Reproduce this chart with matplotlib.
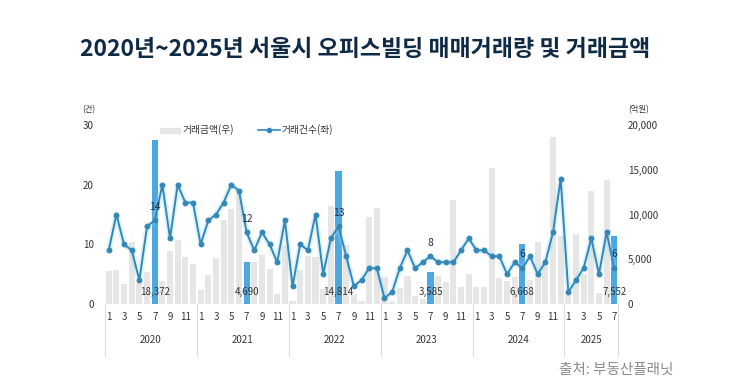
import matplotlib
matplotlib.use("Agg")
import matplotlib.pyplot as plt
from matplotlib.patches import Rectangle
from matplotlib.lines import Line2D
import matplotlib.transforms as mtrans

plt.rcParams['font.family'] = ['Noto Sans CJK KR', 'DejaVu Sans']

# ---------------- data ----------------
years = ['2020', '2021', '2022', '2023', '2024', '2025']
months_per_year = [12, 12, 12, 12, 12, 7]

# 거래건수 (left axis, 건)
counts = [
    9, 15, 10, 9, 4, 13, 14, 20, 11, 20, 17, 17,      # 2020
    10, 14, 15, 17, 20, 19, 12, 9, 12, 10, 7, 14,     # 2021
    3, 10, 9, 15, 5, 11, 13, 8, 3, 4, 6, 6,           # 2022
    1, 2, 6, 9, 6, 7, 8, 7, 7, 7, 9, 11,              # 2023
    9, 9, 8, 8, 5, 7, 6, 8, 5, 7, 12, 21,             # 2024
    2, 4, 6, 11, 5, 12, 6,                            # 2025
]

# 거래금액 (right axis, 억원)
amounts = [
    3700, 3760, 2270, 6930, 2300, 3580, 18372, 2530, 5880, 7150, 5290, 4470,     # 2020
    1530, 3240, 5100, 9390, 10670, 12290, 4690, 4730, 5470, 3910, 1120, 6520,    # 2021
    300, 3800, 5380, 5270, 1700, 10950, 14814, 6590, 1100, 300, 9750, 10750,     # 2022
    3050, 370, 1820, 3170, 930, 600, 3585, 3150, 2480, 11630, 1940, 3370,        # 2023
    1940, 1940, 15220, 2940, 2620, 3000, 6668, 2700, 6980, 4700, 18700, 7600,    # 2024
    950, 7780, 3350, 12600, 1200, 13800, 7552,                                   # 2025
]

month_labels = [str(m) for n in months_per_year for m in range(1, n + 1)]
highlight_month = '7'

left_ticks = [0, 10, 20, 30]
right_ticks = [0, 5000, 10000, 15000, 20000]

title = '2020년~2025년 서울시 오피스빌딩 매매거래량 및 거래금액'
source = '출처: 부동산플래닛'

# ---------------- styles ----------------
GRAY_BAR = '#e6e6e6'
BLUE_BAR = '#4aa8e3'
LINE_C = '#3388b8'
HALO_C = '#9fdcf2'
TXT = '#333333'
NAVY = '#1b2f4a'
DIV = '#dcdcdc'

W, H = 731, 385
fig = plt.figure(figsize=(W / 100, H / 100), dpi=100)
fig.patch.set_facecolor('white')

x0, x1 = 104.9, 618.1
ytop, ybot = 125, 304
ax2 = fig.add_axes([x0 / W, 1 - ybot / H, (x1 - x0) / W, (ybot - ytop) / H])  # bars (right)
ax = ax2.twinx()  # line (left)

n = len(counts)
xs = list(range(n))

# bars
colors = [BLUE_BAR if m == highlight_month else GRAY_BAR for m in month_labels]
ax2.bar(xs, amounts, width=0.8, color=colors, zorder=1)
ax2.set_ylim(0, 20000)
ax2.set_xlim(-0.5, n - 0.5)

# line
ax.plot(xs, counts, color=HALO_C, lw=4.0, alpha=0.35, solid_capstyle='round', zorder=2)
ax.plot(xs, counts, color=LINE_C, lw=1.4, marker='o', ms=3.2, zorder=3)
ax.set_ylim(0, 30)

ax.set_zorder(ax2.get_zorder() + 1)
ax.patch.set_visible(False)

# axis placement: counts on left, amounts on right
ax.yaxis.set_ticks_position('left')
ax.yaxis.set_label_position('left')
ax2.yaxis.set_ticks_position('right')
ax2.yaxis.set_label_position('right')

ax.set_yticks(left_ticks)
ax.set_yticklabels([str(t) for t in left_ticks])
ax2.set_yticks(right_ticks)
ax2.set_yticklabels([f'{t:,}' for t in right_ticks])
ax.tick_params(axis='y', length=0, pad=8, labelsize=7, labelcolor=TXT, left=True, right=False,
               labelleft=True, labelright=False)
ax2.tick_params(axis='y', length=0, pad=7, labelsize=7, labelcolor=TXT, left=False, right=True,
                labelleft=False, labelright=True)

ax2.set_xticks(xs[::2])
ax2.set_xticklabels(month_labels[::2])
ax2.tick_params(axis='x', length=0, pad=5.5, labelsize=7, labelcolor=TXT)
ax.tick_params(axis='x', length=0, labelbottom=False)

for a in (ax, ax2):
    for s in a.spines.values():
        s.set_visible(False)
ax2.axhline(0, color=DIV, lw=0.8, zorder=0)

# year dividers and labels
trans = mtrans.blended_transform_factory(ax2.transData, ax2.transAxes)
bounds = [-0.5]
for m in months_per_year:
    bounds.append(bounds[-1] + m)
for b in bounds:
    ax2.plot([b, b], [0, -0.29], color=DIV, lw=0.8, transform=trans, clip_on=False)
for i, y in enumerate(years):
    ax2.text((bounds[i] + bounds[i + 1]) / 2, -0.20, y, transform=trans, ha='center', va='center',
             fontsize=7, color=TXT)

# annotations for July
for i, m in enumerate(month_labels):
    if m == highlight_month:
        ax.text(i, counts[i] + 2.3, str(counts[i]), ha='center', va='center', fontsize=7.5,
                color=NAVY, zorder=5)
        ax2.text(i, 1340, f'{amounts[i]:,}', ha='center', va='center', fontsize=7,
                 color=TXT, zorder=5)

# unit labels
fig.text(95 / W, 1 - 110 / H, '(건)', ha='right', va='center', fontsize=6, color=TXT)
fig.text(628 / W, 1 - 110 / H, '(억원)', ha='left', va='center', fontsize=6, color=TXT)

# legend (manual)
fig.add_artist(Rectangle((160 / W, 1 - 133 / H), 20 / W, 5.5 / H, transform=fig.transFigure,
                         color=GRAY_BAR))
fig.text(183 / W, 1 - 130 / H, '거래금액(우)', ha='left', va='center', fontsize=7, color=TXT)
fig.add_artist(Line2D([258 / W, 280 / W], [1 - 130 / H, 1 - 130 / H], transform=fig.transFigure,
                      color=LINE_C, lw=1.2))
fig.add_artist(Line2D([269 / W], [1 - 130 / H], transform=fig.transFigure, color=LINE_C,
                      marker='o', ms=3))
fig.text(282 / W, 1 - 130 / H, '거래건수(좌)', ha='left', va='center', fontsize=7, color=TXT)

# title and source
fig.text(365 / W, 1 - 50 / H, title, ha='center', va='center', fontsize=16.5, fontweight='bold',
         color='#0f2a45')
fig.text(673 / W, 1 - 370 / H, source, ha='right', va='center', fontsize=10.5, color='#8a8a8a')

fig.savefig('out.png', dpi=100, facecolor='white')
